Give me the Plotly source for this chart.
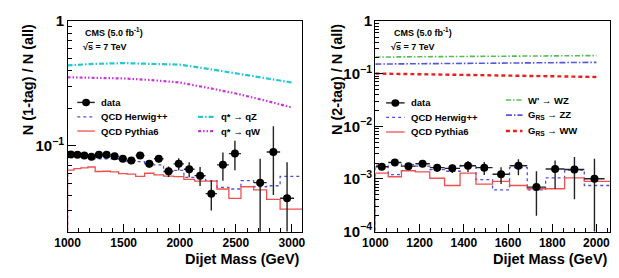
import plotly.graph_objects as go

# ---------------- data ----------------
# dijet mass bin edges (GeV)
edges_1tag = [1000, 1058, 1118, 1181, 1246, 1313, 1383, 1455, 1530, 1607, 1687, 1770,
              1856, 1945, 2037, 2132, 2231, 2332, 2438, 2546, 2659, 2775, 2895, 3019, 3147]
herwig_1tag = [0.0826, 0.0826, 0.0826, 0.0826, 0.0787, 0.0787, 0.0787, 0.0766, 0.0745, 0.0745,
               0.0703, 0.0703, 0.0619, 0.0635, 0.0558, 0.0570, 0.0526, 0.0464, 0.0450, 0.0526,
               0.0469, 0.0478, 0.0568, 0.0568]
pythia_1tag = [0.0637, 0.0655, 0.0665, 0.0676, 0.0622, 0.0625, 0.0618, 0.0597, 0.0592, 0.0568,
               0.0602, 0.0584, 0.0570, 0.0566, 0.0537, 0.0520, 0.0520, 0.0450, 0.0378, 0.0469,
               0.0442, 0.0372, 0.0310, 0.0310]
data_bins_1tag = [0, 1, 2, 3, 4, 5, 6, 7, 8, 9, 10, 11, 12, 13, 14, 15, 16, 17, 18, 20, 21, 22]
data_1tag = [0.0851, 0.0846, 0.0836, 0.0816, 0.0846, 0.0846, 0.0825, 0.0788, 0.0763, 0.0836,
             0.0716, 0.0788, 0.0626, 0.0716, 0.0649, 0.0576, 0.0413, 0.0703, 0.0866, 0.0506,
             0.0892, 0.0379]
data_1tag_errup = [0.0025, 0.0026, 0.0028, 0.0030, 0.0032, 0.0035, 0.0037, 0.0040, 0.0042, 0.0048,
                   0.0048, 0.0055, 0.0055, 0.0080, 0.0090, 0.0100, 0.0110, 0.0180, 0.0230, 0.0280,
                   0.0540, 0.0360]
data_1tag_errdn = [0.0025, 0.0026, 0.0028, 0.0030, 0.0032, 0.0035, 0.0037, 0.0040, 0.0042, 0.0048,
                   0.0048, 0.0055, 0.0065, 0.0080, 0.0090, 0.0100, 0.0110, 0.0180, 0.0230, 0.0350,
                   0.0490, 0.0360]
sig_mass_1tag = [1000, 1250, 1500, 1750, 2000, 2250, 2500, 2750, 3000]
qstar_qZ = [0.442, 0.455, 0.461, 0.457, 0.448, 0.415, 0.383, 0.352, 0.322]
qstar_qW = [0.355, 0.352, 0.347, 0.337, 0.322, 0.292, 0.263, 0.232, 0.203]

edges_2tag = [1000, 1058, 1118, 1181, 1246, 1313, 1383, 1455, 1530, 1607, 1687, 1770,
              1856, 1945, 2037, 2132]
herwig_2tag = [0.00182, 0.00121, 0.00188, 0.00175, 0.00150, 0.00140, 0.00180, 0.00097,
               0.00062, 0.00164, 0.00062, 0.00105, 0.00148, 0.00075, 0.00075]
pythia_2tag = [0.00129, 0.00110, 0.00143, 0.00136, 0.00103, 0.00075, 0.00129, 0.00080,
               0.000895, 0.00075, 0.00065, 0.00065, 0.00105, 0.000895, 0.000895]
data_bins_2tag = [0, 1, 2, 3, 4, 5, 6, 7, 8, 9, 10, 11, 12, 13]
data_2tag = [0.00171, 0.00206, 0.00175, 0.00195, 0.00164, 0.00159, 0.00178, 0.00164,
             0.00123, 0.00178, 0.00070, 0.00155, 0.00151, 0.00101]
data_2tag_errup = [0.00015, 0.00018, 0.00018, 0.00020, 0.00028, 0.00030, 0.00042, 0.00045,
                   0.00043, 0.00060, 0.00070, 0.00070, 0.00110, 0.00140]
data_2tag_errdn = [0.00015, 0.00018, 0.00018, 0.00020, 0.00028, 0.00030, 0.00042, 0.00045,
                   0.00043, 0.00060, 0.00050, 0.00090, 0.00110, 0.00140]
sig_mass_2tag = [1000, 1250, 1500, 1750, 2000]
wprime_WZ = [0.208, 0.211, 0.215, 0.218, 0.222]
grs_ZZ = [0.153, 0.156, 0.159, 0.162, 0.165]
grs_WW = [0.101, 0.097, 0.094, 0.090, 0.087]

# ---------------- styling ----------------
W, H = 619, 278
FONT = "Liberation Sans"
C_HERWIG = "#5050e0"
C_PYTHIA = "#f05050"
C_QZ = "#22c8d2"
C_QW = "#cc33dd"
C_WZ = "#55bb55"
C_ZZ = "#5555dd"
C_WW = "#e82020"
FLOOR = 1e-9


def px(x):
    return x / W


def py(y):
    return 1 - y / H


def step_xy(edges, vals):
    xs = [edges[0]] + list(edges)
    ys = [FLOOR] + list(vals) + [vals[-1]]
    return xs, ys


def centers(edges, idx):
    return [(edges[i] + edges[i + 1]) / 2 for i in idx], [(edges[i + 1] - edges[i]) / 2 for i in idx]


fig = go.Figure()


def add_panel(edges, herwig, pythia, dbins, dvals, eup, edn, signals, xa, ya):
    hx, hy = step_xy(edges, herwig)
    fig.add_trace(go.Scatter(x=hx, y=hy, mode="lines", line=dict(shape="hv", color=C_HERWIG, width=1.3, dash="dot"),
                             xaxis=xa, yaxis=ya, showlegend=False, hoverinfo="skip"))
    rx, ry = step_xy(edges, pythia)
    fig.add_trace(go.Scatter(x=rx, y=ry, mode="lines", line=dict(shape="hv", color=C_PYTHIA, width=1.3),
                             xaxis=xa, yaxis=ya, showlegend=False, hoverinfo="skip"))
    for sx, sy, col, dash, wd in signals:
        fig.add_trace(go.Scatter(x=sx, y=sy, mode="lines", line=dict(color=col, width=wd, dash=dash),
                                 xaxis=xa, yaxis=ya, showlegend=False, hoverinfo="skip"))
    cx, hw = centers(edges, dbins)
    fig.add_trace(go.Scatter(x=cx, y=dvals, mode="markers",
                             marker=dict(color="black", size=8),
                             error_y=dict(type="data", array=eup, arrayminus=edn, symmetric=False,
                                          color="#222", thickness=1.4, width=0),
                             error_x=dict(type="data", array=hw, color="#222", thickness=1.4, width=0),
                             xaxis=xa, yaxis=ya, showlegend=False, hoverinfo="skip"))


add_panel(edges_1tag, herwig_1tag, pythia_1tag, data_bins_1tag, data_1tag, data_1tag_errup, data_1tag_errdn,
          [(sig_mass_1tag, qstar_qZ, C_QZ, "5px,2px,1.5px,2px", 2.2),
           (sig_mass_1tag, qstar_qW, C_QW, "3px,2px,1.5px,2px,1.5px,2px", 2.2)],
          "x", "y")
add_panel(edges_2tag, herwig_2tag, pythia_2tag, data_bins_2tag, data_2tag, data_2tag_errup, data_2tag_errdn,
          [(sig_mass_2tag, wprime_WZ, C_WZ, "5px,2px,1.5px,2px", 1.6),
           (sig_mass_2tag, grs_ZZ, C_ZZ, "6px,2px,1.5px,2px", 1.6),
           (sig_mass_2tag, grs_WW, C_WW, "4px,3px", 2.4)],
          "x2", "y2")

tickfont = dict(family=FONT, size=12, color="black", weight="bold")
common_x = dict(showline=True, linecolor="black", linewidth=1, mirror=True, ticks="inside", ticklen=8,
                tickwidth=1, tickcolor="black", showgrid=False, zeroline=False, tickfont=tickfont)
common_y = dict(showline=True, linecolor="black", linewidth=1, mirror=True, ticks="inside", ticklen=8,
                tickwidth=1, tickcolor="black", showgrid=False, zeroline=False, tickfont=tickfont,
                type="log", dtick=1, exponentformat="power",
                minor=dict(ticks="inside", ticklen=4, tickcolor="black", showgrid=False))
ydom = [py(237), py(13)]

fig.update_layout(
    width=W, height=H, margin=dict(l=0, r=0, t=0, b=0),
    paper_bgcolor="white", plot_bgcolor="white", showlegend=False,
    xaxis=dict(domain=[px(56), px(297)], range=[1000, 3093], anchor="y", tick0=1000, dtick=500,
               minor=dict(ticks="inside", ticklen=4, dtick=100, tickcolor="black", showgrid=False), **common_x),
    yaxis=dict(domain=ydom, range=[-1.688, 0], anchor="x", **common_y),
    xaxis2=dict(domain=[px(372), px(613)], range=[1000, 2062], anchor="y2", tick0=1000, dtick=200,
                minor=dict(ticks="inside", ticklen=4, dtick=50, tickcolor="black", showgrid=False), **common_x),
    yaxis2=dict(domain=ydom, range=[-4, 0], anchor="x2", **common_y),
)

# ---------------- text & legends ----------------
ann = []
shapes = []


def text(x, y, s, size=9.5, xanchor="left", yanchor="middle", angle=0):
    ann.append(dict(x=px(x), y=py(y), xref="paper", yref="paper", text=s, showarrow=False,
                    xanchor=xanchor, yanchor=yanchor, textangle=angle,
                    font=dict(family=FONT, size=size, color="black", weight="bold")))


def legline(x0, x1, y, color, dash="solid", width=1.3):
    shapes.append(dict(type="line", xref="paper", yref="paper", x0=px(x0), x1=px(x1), y0=py(y), y1=py(y),
                       line=dict(color=color, dash=dash, width=width)))


def legdata(x0, x1, y):
    legline(x0, x1, y, "#222", width=1.4)
    xc = (x0 + x1) / 2
    shapes.append(dict(type="circle", xref="paper", yref="paper", x0=px(xc - 4), x1=px(xc + 4),
                       y0=py(y + 4), y1=py(y - 4), fillcolor="black", line=dict(color="black", width=0)))


# axis titles
text(15, 14, "N (1-tag) / N (all)", size=14.5, xanchor="center", yanchor="top", angle=-90)
text(332, 14, "N (2-tag) / N (all)", size=14.5, xanchor="center", yanchor="top", angle=-90)
text(297, 277, "Dijet Mass (GeV)", size=14.5, xanchor="right", yanchor="bottom")
text(613, 277, "Dijet Mass (GeV)", size=14.5, xanchor="right", yanchor="bottom")

# CMS labels
text(72, 25, "CMS (5.0 fb<sup>-1</sup>)", size=9)
text(70, 40, "√<span style='text-decoration:overline'>s</span> = 7 TeV", size=9)
text(389, 25, "CMS (5.0 fb<sup>-1</sup>)", size=9)
text(386, 40, "√<span style='text-decoration:overline'>s</span> = 7 TeV", size=9)

# left legend
legdata(66, 84, 99.5)
text(88, 99.5, "data")
legline(66, 84, 115, C_HERWIG, "dot")
text(88, 115, "QCD Herwig++")
legline(66, 84, 130, C_PYTHIA)
text(88, 130, "QCD Pythia6")
legline(190, 207, 115, C_QZ, "5px,2px,1.5px,2px", 2.2)
text(211, 115, "q* → qZ")
legline(190, 207, 130, C_QW, "3px,2px,1.5px,2px,1.5px,2px", 2.2)
text(211, 130, "q* → qW")

# right legend
legdata(383, 402, 100)
text(406, 100, "data")
legline(383, 402, 115.5, C_HERWIG, "dot")
text(406, 115.5, "QCD Herwig++")
legline(383, 402, 131, C_PYTHIA)
text(406, 131, "QCD Pythia6")
legline(506, 523, 97, C_WZ, "5px,2px,1.5px,2px", 1.6)
text(527, 97, "W' → WZ")
legline(506, 523, 113, C_ZZ, "6px,2px,1.5px,2px", 1.6)
text(527, 113, "G<sub>RS</sub> → ZZ")
legline(506, 523, 130, C_WW, "4px,3px", 2.4)
text(527, 130, "G<sub>RS</sub> → WW")

fig.update_layout(annotations=ann, shapes=shapes)
fig.write_html("out.html")
